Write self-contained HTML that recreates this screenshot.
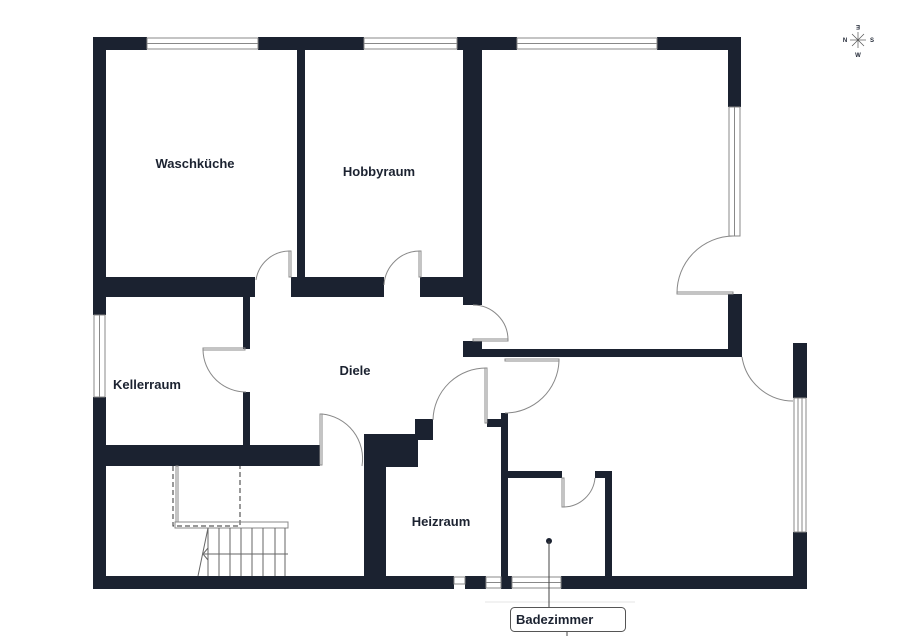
<!DOCTYPE html>
<html><head><meta charset="utf-8"><style>
html,body{margin:0;padding:0;background:#fff;}
svg{display:block;}
text{font-family:"Liberation Sans",sans-serif;font-weight:bold;fill:#1b2230;font-size:13px;}
</style></head><body>
<svg width="900" height="636" viewBox="0 0 900 636" xmlns="http://www.w3.org/2000/svg">
<g fill="#1b2230">
<rect x="93" y="37" width="54" height="13"/>
<rect x="258" y="37" width="106" height="13"/>
<rect x="457" y="37" width="60" height="13"/>
<rect x="657" y="37" width="84" height="13"/>
<rect x="93" y="37" width="13" height="278"/>
<rect x="93" y="397" width="13" height="192"/>
<rect x="728" y="37" width="13" height="70"/>
<rect x="728" y="294" width="14" height="63"/>
<rect x="482" y="349" width="260" height="8"/>
<rect x="463" y="341" width="19" height="16"/>
<rect x="463" y="37" width="19" height="268"/>
<rect x="297" y="50" width="8" height="230"/>
<rect x="93" y="277" width="162" height="20"/>
<rect x="291" y="277" width="93" height="20"/>
<rect x="420" y="277" width="62" height="20"/>
<rect x="243" y="297" width="7" height="52"/>
<rect x="243" y="392" width="7" height="55"/>
<rect x="93" y="445" width="227" height="21"/>
<rect x="364" y="434" width="54" height="33"/>
<rect x="415" y="419" width="18" height="21"/>
<rect x="364" y="434" width="22" height="155"/>
<rect x="93" y="576" width="361" height="13"/>
<rect x="465" y="576" width="21" height="13"/>
<rect x="501" y="576" width="11" height="13"/>
<rect x="561" y="576" width="246" height="13"/>
<rect x="501" y="413" width="7" height="165"/>
<rect x="487" y="419" width="21" height="8"/>
<rect x="508" y="471" width="54" height="7"/>
<rect x="595" y="471" width="17" height="7"/>
<rect x="605" y="471" width="7" height="107"/>
<rect x="793" y="343" width="14" height="55"/>
<rect x="793" y="532" width="14" height="57"/>
</g>
<g fill="none" stroke="#888" stroke-width="1">
<rect x="147" y="38" width="111" height="11"/><line x1="147" y1="43.5" x2="258" y2="43.5"/>
<rect x="364" y="38" width="93" height="11"/><line x1="364" y1="43.5" x2="457" y2="43.5"/>
<rect x="517" y="38" width="140" height="11"/><line x1="517" y1="43.5" x2="657" y2="43.5"/>
<rect x="729" y="107" width="11" height="129"/><line x1="734.5" y1="107" x2="734.5" y2="236"/>
<rect x="94" y="315" width="11" height="82"/><line x1="99.5" y1="315" x2="99.5" y2="397"/>
<rect x="794" y="398" width="12" height="134"/><line x1="798" y1="398" x2="798" y2="532"/><line x1="802" y1="398" x2="802" y2="532"/>
<rect x="454" y="577" width="11" height="7"/>
<rect x="486" y="577" width="15" height="11"/><line x1="486" y1="582.5" x2="501" y2="582.5"/>
<rect x="512" y="577" width="49" height="11"/><line x1="512" y1="582.5" x2="561" y2="582.5"/>
<rect x="289" y="251" width="2" height="26"/><path d="M289 251 A34 34 0 0 0 256 280"/>
<rect x="419" y="251" width="2" height="26"/><path d="M420 251 A36 36 0 0 0 384 285"/>
<rect x="473" y="339" width="35" height="2"/><path d="M473 305 A35 35 0 0 1 508 340"/>
<rect x="677" y="292" width="56" height="2"/><path d="M733 236 A57 57 0 0 0 677 293"/>
<rect x="203" y="348" width="42" height="2"/><path d="M203 350 A43 43 0 0 0 246 392"/>
<rect x="320" y="414" width="2" height="51"/><path d="M322 414 A45 45 0 0 1 362 466"/>
<rect x="485" y="368" width="2" height="55"/><path d="M487 368 A53 53 0 0 0 433 420"/>
<rect x="505" y="359" width="54" height="2"/><path d="M559 361 A54 54 0 0 1 505 413"/>
<path d="M742 357 A52 52 0 0 0 793 401"/>
<rect x="562" y="478" width="2" height="29"/><path d="M564 507 A32 32 0 0 0 595 478"/>
<path d="M173 466 V526 H240 V466" stroke="#333" stroke-dasharray="5 3"/>
<rect x="176" y="466" width="2" height="56"/>
<rect x="175" y="522" width="113" height="6"/>
<g stroke="#666">
<line x1="208" y1="528" x2="208" y2="576"/><line x1="219" y1="528" x2="219" y2="576"/>
<line x1="230" y1="528" x2="230" y2="576"/><line x1="241" y1="528" x2="241" y2="576"/>
<line x1="252" y1="528" x2="252" y2="576"/><line x1="263" y1="528" x2="263" y2="576"/>
<line x1="275" y1="528" x2="275" y2="576"/><line x1="285" y1="528" x2="285" y2="576"/>
<line x1="204" y1="554" x2="288" y2="554"/>
<line x1="208" y1="528" x2="198" y2="576"/>
<path d="M208 548 L203 554 L208 560"/>
</g>
<line x1="485" y1="602" x2="635" y2="602" stroke="#e4e4e4"/>
</g>
<circle cx="549" cy="541" r="3" fill="#1b2230"/>
<line x1="549" y1="541" x2="549" y2="607" stroke="#444" stroke-width="1"/>
<line x1="567" y1="632" x2="567" y2="636" stroke="#444" stroke-width="1"/>
<rect x="510.5" y="607.5" width="115" height="24" rx="4" fill="#fff" stroke="#555"/>
<text x="516" y="624">Badezimmer</text>
<text x="195" y="168" text-anchor="middle">Waschküche</text>
<text x="379" y="176" text-anchor="middle">Hobbyraum</text>
<text x="355" y="375" text-anchor="middle">Diele</text>
<text x="147" y="389" text-anchor="middle">Kellerraum</text>
<text x="441" y="526" text-anchor="middle">Heizraum</text>
<g stroke="#555" stroke-width="0.7">
<line x1="850" y1="40" x2="866" y2="40"/><line x1="858" y1="32" x2="858" y2="48"/>
<line x1="852" y1="34" x2="864" y2="46"/><line x1="864" y1="34" x2="852" y2="46"/>
</g>
<text x="858" y="29" text-anchor="middle" style="font-size:6px" transform="rotate(180 858 27)">E</text>
<text x="845" y="42" text-anchor="middle" style="font-size:6px">N</text>
<text x="872" y="42" text-anchor="middle" style="font-size:6px">S</text>
<text x="858" y="57" text-anchor="middle" style="font-size:6px">W</text>
</svg>
</body></html>
